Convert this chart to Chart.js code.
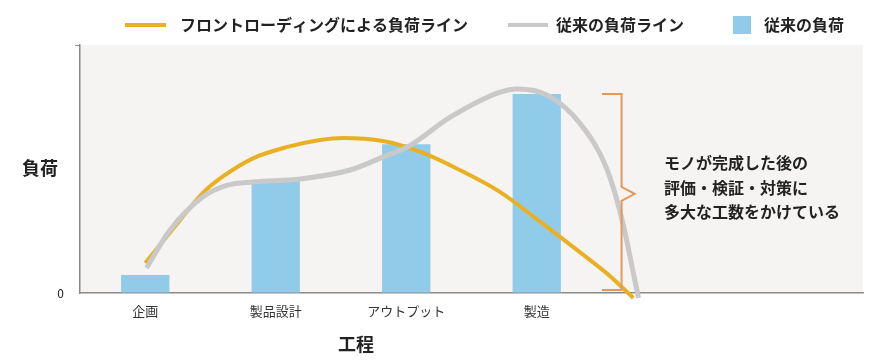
<!DOCTYPE html>
<html>
<head>
<meta charset="utf-8">
<script src="https://cdn.jsdelivr.net/npm/chart.js@4.4.1/dist/chart.umd.min.js"></script>
<style>
  html, body { margin: 0; padding: 0; background: #fff; }
  #wrap { width: 880px; height: 363px; }
</style>
</head>
<body>
<div id="wrap"><canvas id="myChart"></canvas></div>
<script>
// categories (two empty slots on the right leave room for the note)
var processes = ['企画', '製品設計', 'アウトプット', '製造', '', ''];
// bars: current load per process
var currentLoad = [7.3, 45.2, 60, 80.2, null, null];
// front-loading curve (x = process index)
var frontX = [0.0, 0.23, 0.44, 0.59, 0.83, 1.09, 1.34, 1.52, 1.82, 2.11, 2.41, 2.72, 3.03, 3.33, 3.56, 3.74];
var frontY = [12.1, 27.0, 40.3, 46.8, 54.4, 58.9, 61.7, 62.5, 61.3, 56.9, 49.6, 40.7, 28.6, 16.5, 6.9, -2.0];
// current load curve
var currentX = [0.01, 0.19, 0.44, 0.63, 0.83, 1.19, 1.57, 1.82, 2.01, 2.34, 2.72, 2.85, 3.08, 3.33, 3.54, 3.66, 3.74, 3.78];
var currentY = [10.1, 25.4, 38.7, 43.5, 44.8, 46.0, 49.6, 54.8, 58.9, 71.0, 81.0, 82.3, 79.8, 68.5, 49.6, 28.2, 8.1, -2.0];
var yTicks = [0, 100];
var seriesNames = ['フロントローディングによる負荷ライン', '従来の負荷ライン', '従来の負荷'];
var yTitle = '負荷';
var xTitle = '工程';
var noteLines = ['モノが完成した後の', '評価・検証・対策に', '多大な工数をかけている'];

var FONT = '"Noto Sans CJK JP", "Noto Sans", sans-serif';
var ORANGE = '#e9b122';
var GREY = '#c9c9c9';
var BLUE = '#90cbea';
var BRACKET = '#e8975a';

Chart.defaults.font.family = FONT;

function toPoints(xs, ys) {
    var pts = [];
    for (var i = 0; i < xs.length; i++) {
        pts.push({x: xs[i], y: ys[i]});
    }
    return pts;
}

// background, legend, titles, bracket and the note
var decor = {
    id: 'decor',
    beforeDraw: function(chart) {
        var c = chart.ctx, a = chart.chartArea;
        c.save();
        c.fillStyle = '#f5f4f2';
        c.fillRect(a.left, a.top, a.right - a.left, a.bottom - a.top);
        c.restore();
    },
    afterDraw: function(chart) {
        var c = chart.ctx;
        var xs = chart.scales.x2, ys = chart.scales.y;
        c.save();

        // legend
        c.textBaseline = 'middle';
        c.textAlign = 'left';
        c.font = 'bold 16px ' + FONT;
        c.fillStyle = '#222';
        c.lineCap = 'butt';
        c.lineWidth = 4;
        c.strokeStyle = ORANGE;
        c.beginPath(); c.moveTo(125, 25); c.lineTo(166, 25); c.stroke();
        c.fillText(seriesNames[0], 180, 25);
        c.strokeStyle = GREY;
        c.beginPath(); c.moveTo(508, 25); c.lineTo(548, 25); c.stroke();
        c.fillText(seriesNames[1], 556, 25);
        c.fillStyle = BLUE;
        c.fillRect(733, 16, 18, 18);
        c.fillStyle = '#222';
        c.fillText(seriesNames[2], 764, 25);

        // axis titles
        c.font = 'bold 18px ' + FONT;
        c.textAlign = 'center';
        c.fillText(yTitle, 40, 168);
        c.fillText(xTitle, 356, 344);

        // bracket next to the last bar
        var bx = xs.getPixelForValue(3.65);
        var bl = xs.getPixelForValue(3.5);
        var tip = xs.getPixelForValue(3.75);
        var top = ys.getPixelForValue(currentLoad[3]);
        var bottom = ys.getPixelForValue(1.2);
        var mid = ys.getPixelForValue(40);
        c.strokeStyle = BRACKET;
        c.lineWidth = 2;
        c.lineJoin = 'miter';
        c.beginPath();
        c.moveTo(bl, top);
        c.lineTo(bx, top);
        c.lineTo(bx, mid - 7);
        c.lineTo(tip, mid);
        c.lineTo(bx, mid + 7);
        c.lineTo(bx, bottom);
        c.lineTo(bl, bottom);
        c.stroke();

        // note
        c.font = 'bold 16px ' + FONT;
        c.textAlign = 'left';
        c.fillStyle = '#222';
        for (var i = 0; i < noteLines.length; i++) {
            c.fillText(noteLines[i], 664, 163 + i * 24.5);
        }
        c.restore();
    }
};

var ctx = document.getElementById('myChart').getContext('2d');
var chart = new Chart(ctx, {
    type: 'bar',
    data: {
        labels: processes,
        datasets: [{
            type: 'line',
            label: seriesNames[0],
            data: toPoints(frontX, frontY),
            xAxisID: 'x2',
            borderColor: ORANGE,
            borderWidth: 4,
            pointRadius: 0,
            cubicInterpolationMode: 'monotone',
            clip: false,
            order: 2
        }, {
            type: 'line',
            label: seriesNames[1],
            data: toPoints(currentX, currentY),
            xAxisID: 'x2',
            borderColor: GREY,
            borderWidth: 5,
            pointRadius: 0,
            cubicInterpolationMode: 'monotone',
            clip: false,
            order: 1
        }, {
            label: seriesNames[2],
            data: currentLoad,
            backgroundColor: BLUE,
            barPercentage: 0.37,
            categoryPercentage: 1,
            grouped: false,
            order: 3
        }]
    },
    options: {
        responsive: true,
        maintainAspectRatio: false,
        animation: false,
        layout: { padding: { top: 45, right: 17, left: 0, bottom: 0 } },
        plugins: {
            legend: { display: false },
            tooltip: { enabled: false }
        },
        scales: {
            x: {
                offset: true,
                border: { color: '#8a8a8a', width: 1.5 },
                grid: {
                    offset: true,
                    drawOnChartArea: false,
                    tickLength: 7,
                    color: function(c) { return c.index === processes.length ? '#8a8a8a' : 'rgba(0,0,0,0)'; }
                },
                ticks: { color: '#333', font: { size: 13 }, padding: 3, maxRotation: 0 },
                afterFit: function(s) { s.height = 70; }
            },
            x2: {
                type: 'linear',
                position: 'bottom',
                min: -0.5,
                max: 5.5,
                offset: false,
                display: false
            },
            y: {
                min: 0,
                max: 100,
                border: { color: '#8a8a8a', width: 1.5 },
                grid: {
                    drawOnChartArea: false,
                    tickLength: 5,
                    color: function(c) { return c.tick && c.tick.value === 100 ? '#8a8a8a' : 'rgba(0,0,0,0)'; }
                },
                afterBuildTicks: function(s) {
                    s.ticks = yTicks.map(function(v) { return {value: v}; });
                },
                ticks: {
                    color: '#222',
                    font: { size: 12 },
                    padding: 11,
                    callback: function(v) { return v === 0 ? '0' : ''; }
                },
                afterFit: function(s) { s.width = 80; }
            }
        }
    },
    plugins: [decor]
});
</script>
</body>
</html>
